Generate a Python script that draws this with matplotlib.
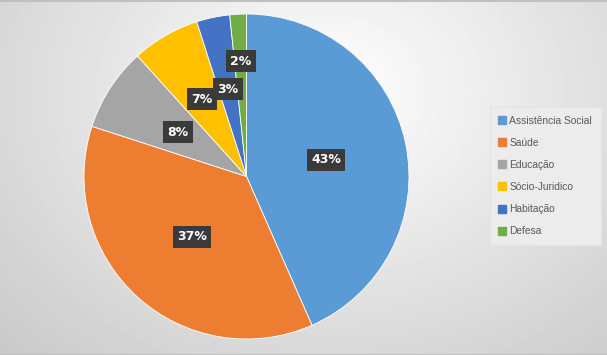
import matplotlib
matplotlib.use('Agg')
import matplotlib.pyplot as plt
from matplotlib.lines import Line2D
import numpy as np

# Data
categories = ['Assistência Social', 'Saúde', 'Educação', 'Sócio-Juridico', 'Habitação', 'Defesa']
shares = [43.4, 36.6, 8.3, 6.75, 3.3, 1.65]
colors = ['#5B9BD5', '#ED7D31', '#A5A5A5', '#FFC000', '#4472C4', '#70AD47']
label_dist = [0.5, 0.5, 0.5, 0.55, 0.55, 0.71]

W, H = 607, 355
fig = plt.figure(figsize=(W / 100, H / 100), dpi=100)

# radial gradient background
bg = fig.add_axes([0, 0, 1, 1])
yy, xx = np.mgrid[0:H, 0:W]
d = np.sqrt(((xx - 330) / 420.0) ** 2 + ((yy - 90) / 330.0) ** 2)
shade = 1.0 - 0.19 * np.clip(d, 0, 1.1)
bg.imshow(shade, cmap='gray', vmin=0, vmax=1, extent=[0, W, H, 0], aspect='auto')
bg.plot([0, W], [0.5, 0.5], color='#c0c0c0', lw=1.5)
bg.plot([0, W], [H - 0.5, H - 0.5], color='#c0c0c0', lw=1.5)
bg.set_xlim(0, W)
bg.set_ylim(H, 0)
bg.axis('off')

ax = fig.add_axes([84 / W, 16 / H, 325 / W, 325 / H])
wedges, _ = ax.pie(shares, colors=colors, startangle=90, counterclock=False,
                   wedgeprops=dict(edgecolor='white', linewidth=0.6))

total = sum(shares)
for w, val, r in zip(wedges, shares, label_dist):
    ang = np.deg2rad((w.theta1 + w.theta2) / 2)
    x, y = r * np.cos(ang), r * np.sin(ang)
    ax.text(x, y, f'{round(val / total * 100):.0f}%', ha='center', va='center',
            color='white', fontsize=9, fontweight='bold', family=['DejaVu Sans'],
            bbox=dict(boxstyle='square,pad=0.35', facecolor='#3a3a3a', edgecolor='none'))
ax.set_xlim(-1, 1)
ax.set_ylim(-1, 1)
ax.set_aspect('equal')
ax.axis('off')

handles = [Line2D([0], [0], marker='s', linestyle='none', markersize=5.5,
                  markerfacecolor=c, markeredgecolor=c) for c in colors]
leg = fig.legend(handles, categories, loc='upper left',
                 bbox_to_anchor=(493 / W, 1 - 110 / H), frameon=True,
                 prop={'family': ['Liberation Sans', 'DejaVu Sans'], 'size': 7.4},
                 labelspacing=1.18, handletextpad=0.35, handlelength=0.7,
                 borderpad=0.55, borderaxespad=0)
frame = leg.get_frame()
frame.set_facecolor('#ececec')
frame.set_edgecolor('#e4e4e4')
frame.set_alpha(1)
frame.set_boxstyle('square')
for t in leg.get_texts():
    t.set_color('#595959')

fig.savefig('out.png', dpi=100)
